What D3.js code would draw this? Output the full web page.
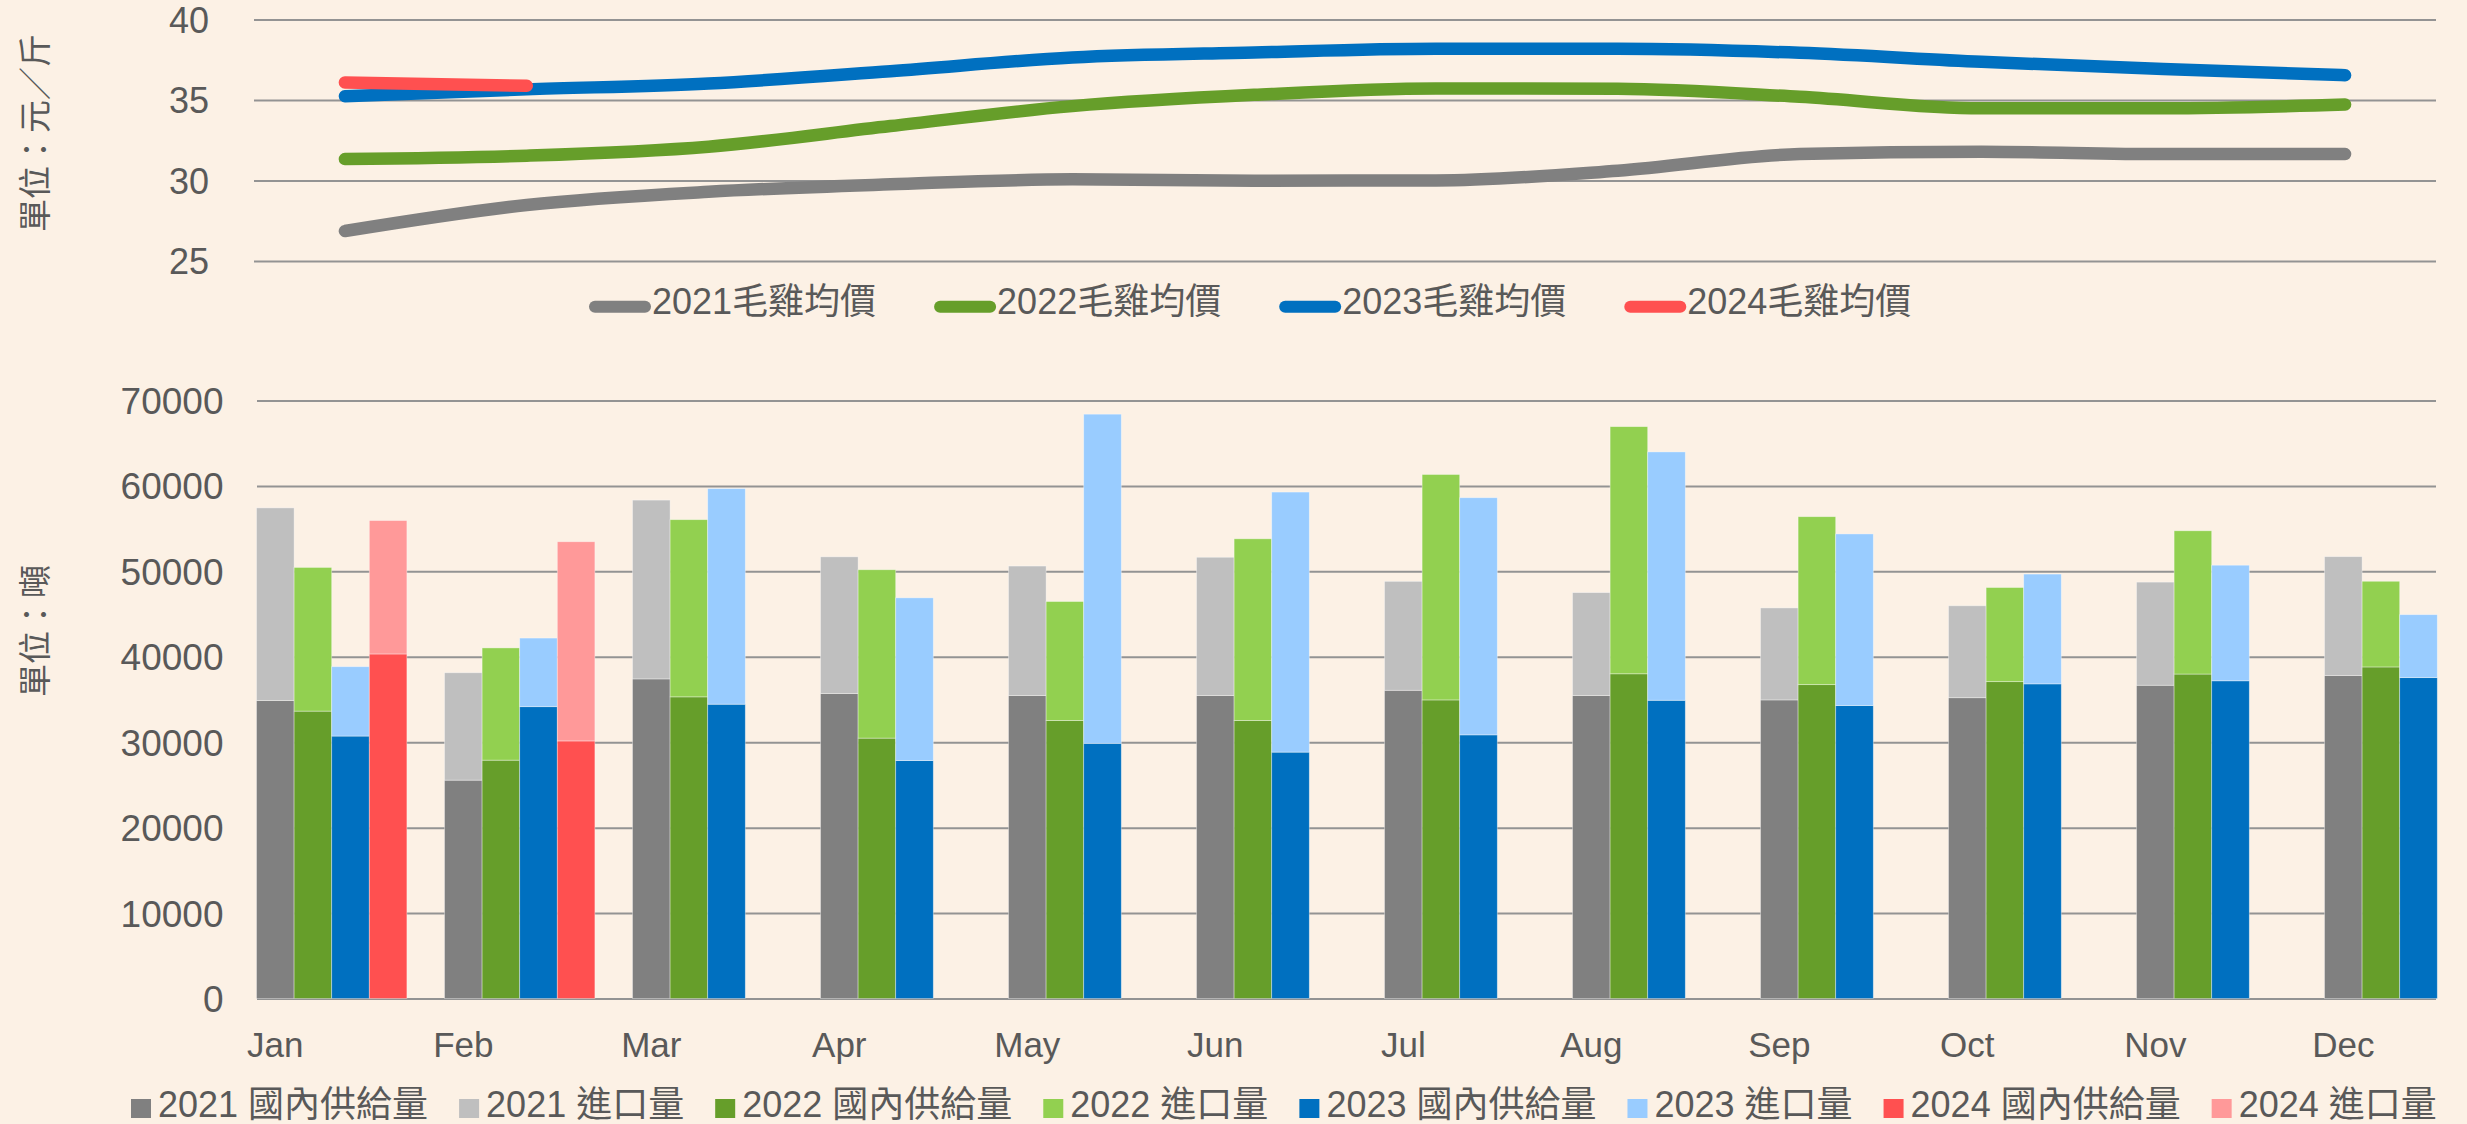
<!DOCTYPE html>
<html><head><meta charset="utf-8">
<script src="https://cdn.jsdelivr.net/npm/d3@7"></script>
<style>html,body{margin:0;padding:0;background:#FCF1E5;}svg{display:block}</style>
</head><body><svg id="c" width="2467" height="1124"></svg>
<script>
// ---------- data ----------
const months = ["Jan","Feb","Mar","Apr","May","Jun","Jul","Aug","Sep","Oct","Nov","Dec"];
const priceTicks = [25, 30, 35, 40];
const supplyTicks = [0, 10000, 20000, 30000, 40000, 50000, 60000, 70000];

const price2021 = [26.86, 28.48, 29.30, 29.76, 30.07, 29.99, 30.00, 30.61, 31.64, 31.79, 31.64, 31.64];
const price2022 = [31.33, 31.54, 32.10, 33.38, 34.62, 35.32, 35.72, 35.70, 35.20, 34.48, 34.48, 34.72];
const price2023 = [35.24, 35.66, 36.03, 36.79, 37.64, 37.95, 38.18, 38.18, 37.93, 37.37, 36.92, 36.54];
const price2024 = [36.09, 35.88];

const domestic2021 = [34880, 25560, 37410, 35700, 35470, 35470, 36080, 35470, 34950, 35210, 36670, 37820];
const import2021   = [22550, 12570, 20930, 16000, 15150, 16180, 12750, 12040, 10770, 10760, 12070, 13900];
const domestic2022 = [33640, 27900, 35310, 30480, 32550, 32550, 34950, 38010, 36740, 37090, 37980, 38810];
const import2022   = [16820, 13140, 20740, 19710, 13920, 21260, 26390, 28930, 19660, 11020, 16770, 10030];
const domestic2023 = [30720, 34160, 34450, 27850, 29870, 28840, 30860, 34910, 34290, 36830, 37190, 37560];
const import2023   = [8120, 8030, 25230, 19050, 38530, 30440, 27760, 29070, 20090, 12850, 13530, 7370];
const domestic2024 = [40330, 30150];
const import2024   = [15620, 23320];

const years = ["2021", "2022", "2023", "2024"];
const priceLegend = ["2021毛雞均價", "2022毛雞均價", "2023毛雞均價", "2024毛雞均價"];
const supplyLegend = ["2021 國內供給量", "2021 進口量", "2022 國內供給量", "2022 進口量",
                      "2023 國內供給量", "2023 進口量", "2024 國內供給量", "2024 進口量"];
const priceTitle = "單位：元／斤";
const supplyTitle = "單位：噸";

// ---------- styles ----------
const lineColors = {"2021": "#808080", "2022": "#669E2A", "2023": "#0070C0", "2024": "#FF5050"};
const domColors  = {"2021": "#808080", "2022": "#669E2A", "2023": "#0070C0", "2024": "#FF5050"};
const impColors  = {"2021": "#BFBFBF", "2022": "#92D050", "2023": "#99CCFF", "2024": "#FF9999"};
const textColor = "#595959";
const gridColor = "#939393";
const latin = "'Liberation Sans', Arial, 'Noto Sans CJK TC', sans-serif";
const cjk = "'Noto Sans CJK TC', 'Noto Sans CJK SC', sans-serif";

const svg = d3.select("#c");
svg.append("rect").attr("width", 2467).attr("height", 1124).attr("fill", "#FCF1E5");

// ---------- top: price lines ----------
const pLeft = 254, pRight = 2436;
const xP = d3.scaleBand().domain(months).range([pLeft, pRight]);
const yP = d3.scaleLinear().domain([25, 40]).range([261, 19.5]);

const axP = svg.append("g").attr("transform", `translate(${pLeft},0)`)
  .call(d3.axisLeft(yP).tickValues(priceTicks).tickSize(-(pRight - pLeft)).tickPadding(45));
axP.select(".domain").remove();
axP.selectAll(".tick line").attr("stroke", gridColor).attr("stroke-width", 2);
axP.selectAll(".tick text").attr("fill", textColor).attr("font-size", 36)
  .attr("font-family", latin).attr("dy", "0.35em");

const prices = {"2021": price2021, "2022": price2022, "2023": price2023, "2024": price2024};
const lineGen = d3.line()
  .x((d, i) => xP(months[i]) + xP.bandwidth() / 2)
  .y(d => yP(d))
  .curve(d3.curveMonotoneX);
years.forEach(y => {
  svg.append("path").datum(prices[y]).attr("d", lineGen)
    .attr("fill", "none").attr("stroke", lineColors[y]).attr("stroke-width", 12.5)
    .attr("stroke-linecap", "round").attr("stroke-linejoin", "round");
});

// price legend
{
  let x = 589;
  const gl = svg.append("g");
  years.forEach((y, i) => {
    gl.append("line").attr("x1", x + 6).attr("x2", x + 56).attr("y1", 306.7).attr("y2", 306.7)
      .attr("stroke", lineColors[y]).attr("stroke-width", 12).attr("stroke-linecap", "round");
    const t = gl.append("text").attr("x", x + 63).attr("y", 314).text(priceLegend[i])
      .attr("fill", textColor).attr("font-size", 36).attr("font-family", latin);
    x += 63 + t.node().getComputedTextLength() + 58;
  });
}

// price title
svg.append("text").attr("transform", "translate(33,133) rotate(-90)")
  .attr("text-anchor", "middle").attr("dominant-baseline", "central")
  .attr("fill", textColor).attr("font-size", 33).attr("font-family", cjk).text(priceTitle);

// ---------- bottom: supply bars ----------
const sLeft = 257, sRight = 2436;
const step = 188;
const xS = d3.scaleBand().domain(months).range([256.5, 256.5 + step * 11.8])
  .paddingInner(0.2).paddingOuter(0);
const xS1 = d3.scaleBand().domain(years).range([0, xS.bandwidth()]);
const yS = d3.scaleLinear().domain([0, 70000]).range([998.5, 400.5]);

const axS = svg.append("g").attr("transform", `translate(${sLeft},0)`)
  .call(d3.axisLeft(yS).tickValues(supplyTicks).tickSize(-(sRight - sLeft)).tickPadding(33.5).tickFormat(d3.format("d")));
axS.select(".domain").remove();
axS.selectAll(".tick line").attr("stroke", gridColor).attr("stroke-width", 2);
axS.selectAll(".tick text").attr("fill", textColor).attr("font-size", 37)
  .attr("font-family", latin).attr("dy", "0.35em");

const domestic = {"2021": domestic2021, "2022": domestic2022, "2023": domestic2023, "2024": domestic2024};
const imports  = {"2021": import2021, "2022": import2022, "2023": import2023, "2024": import2024};

const barG = svg.append("g");
years.forEach(y => {
  domestic[y].forEach((dv, i) => {
    const iv = imports[y][i];
    const bx = xS(months[i]) + xS1(y);
    const w = xS1.bandwidth();
    barG.append("rect").attr("x", bx).attr("width", w)
      .attr("y", yS(dv)).attr("height", yS(0) - yS(dv))
      .attr("fill", domColors[y]).attr("stroke", "rgba(255,255,255,0.45)").attr("stroke-width", 0.8);
    barG.append("rect").attr("x", bx).attr("width", w)
      .attr("y", yS(dv + iv)).attr("height", yS(dv) - yS(dv + iv))
      .attr("fill", impColors[y]).attr("stroke", "rgba(255,255,255,0.45)").attr("stroke-width", 0.8);
  });
});

// month labels (under first bar of each group)
svg.append("g").selectAll("text").data(months).join("text")
  .attr("x", m => xS(m) + xS1("2021") + xS1.bandwidth() / 2)
  .attr("y", 1057).attr("text-anchor", "middle")
  .attr("fill", textColor).attr("font-size", 35).attr("font-family", latin)
  .text(m => m);

// supply title
svg.append("text").attr("transform", "translate(33,631) rotate(-90)")
  .attr("text-anchor", "middle").attr("dominant-baseline", "central")
  .attr("fill", textColor).attr("font-size", 33).attr("font-family", cjk).text(supplyTitle);

// supply legend
{
  let x = 131;
  const gl = svg.append("g");
  supplyLegend.forEach((lab, i) => {
    const y = years[Math.floor(i / 2)];
    const col = i % 2 === 0 ? domColors[y] : impColors[y];
    gl.append("rect").attr("x", x).attr("y", 1099).attr("width", 20).attr("height", 19).attr("fill", col);
    const t = gl.append("text").attr("x", x + 27).attr("y", 1117).text(lab)
      .attr("fill", textColor).attr("font-size", 36).attr("font-family", latin);
    x += 27 + t.node().getComputedTextLength() + 31;
  });
}
</script></body></html>
